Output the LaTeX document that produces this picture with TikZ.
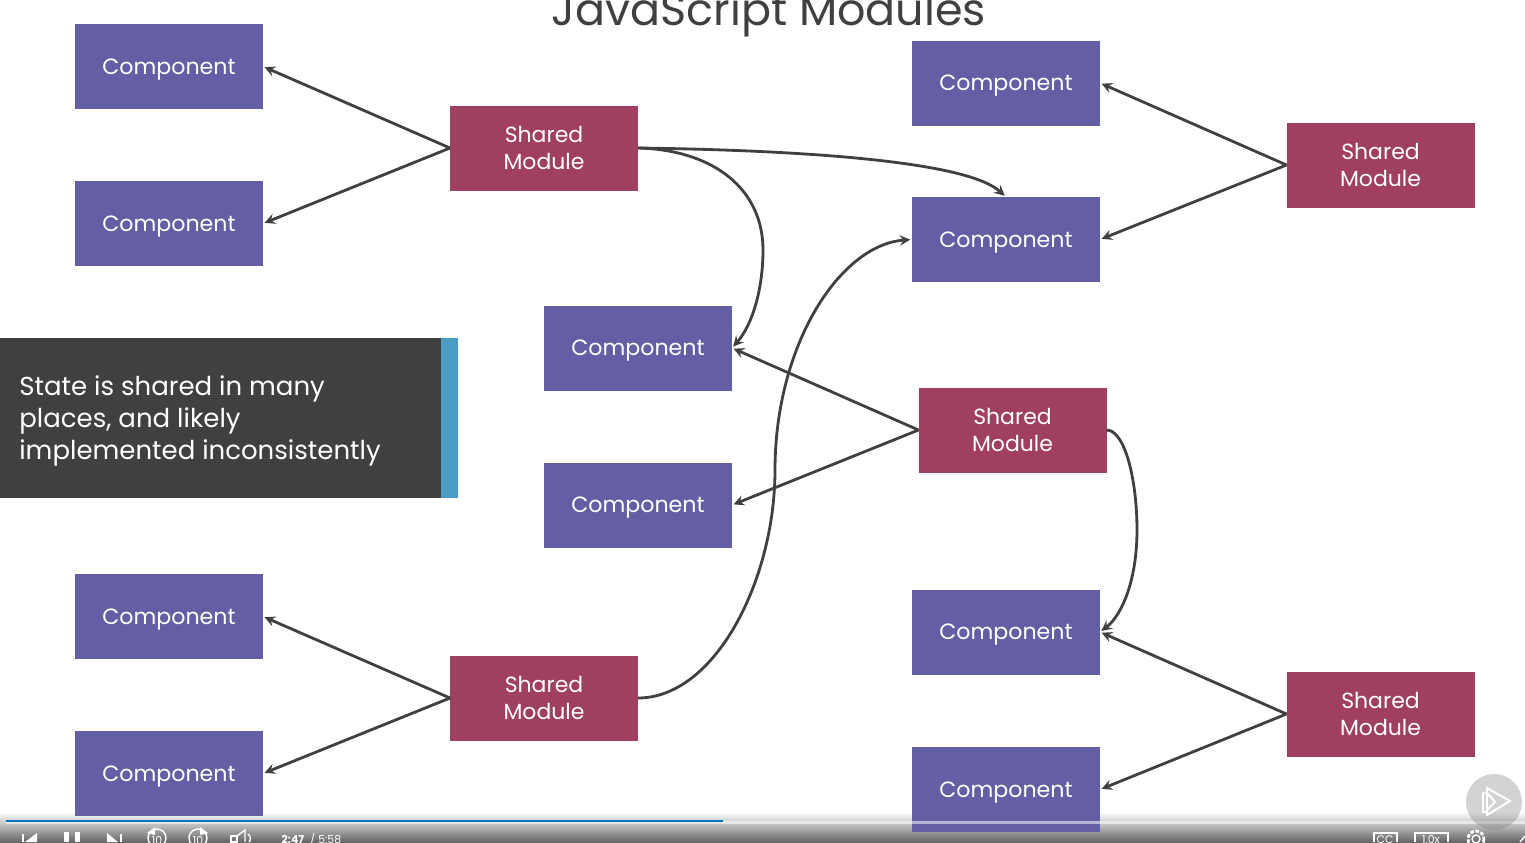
\documentclass[tikz,border=0pt]{standalone}
\usepackage{fontspec}
\setmainfont{Poppins}
\usepackage{xcolor}
\usepackage{tikz}
\usetikzlibrary{positioning}

\definecolor{compfill}{HTML}{645FA5}
\definecolor{sharedfill}{HTML}{A03F5E}
\definecolor{linkgray}{HTML}{404040}
\definecolor{notefill}{HTML}{404040}
\definecolor{notebar}{HTML}{4A9CC5}
\definecolor{playblue}{HTML}{0A78B8}

\tikzset{
	comp/.style={fill=compfill,text=white,minimum width=188*0.02cm,minimum height=85*0.02cm,inner sep=0pt,outer sep=0pt,text height=9pt,text depth=0pt,font=\fontsize{12.6}{15}\selectfont},
	shared/.style={fill=sharedfill,text=white,minimum width=188*0.02cm,minimum height=85*0.02cm,inner sep=0pt,outer sep=0pt,align=center,font=\fontsize{12.5}{15.3}\selectfont},
	link/.style={->,linkgray,line width=1.6pt,shorten >=1pt},
	icon/.style={white,line width=0.8pt},
	tiny/.style={text=white,inner sep=0pt,font=\fontsize{6.2}{7}\selectfont}
}

\begin{document}
\begin{tikzpicture}[x=0.02cm,y=-0.02cm,>=stealth]
	\useasboundingbox (0,0) rectangle (1525,842);
	\clip (0,0) rectangle (1525,842);

	% player bar goes underneath the slide
	\shade[top color=white,bottom color=black!60] (0,812) rectangle (1525,842);

	\node[font=\fontsize{25.3}{30}\selectfont,text=linkgray] (title) at (769,14) {JavaScript Modules};

	\node[comp] (compA) at (169,66.5) {Component};
	\node[comp] (compB) at (169,223.5) {Component};
	\node[shared] (sharedL) at (544,148) {Shared\\Module};

	\node[comp] (compC) at (1006,83) {Component};
	\node[comp] (compD) at (1006,239.5) {Component};
	\node[shared] (sharedR) at (1380.5,165) {Shared\\Module};

	\node[comp] (compE) at (638,348) {Component};
	\node[comp] (compF) at (638,505) {Component};
	\node[shared] (sharedM) at (1012.5,430) {Shared\\Module};

	\node[comp] (compG) at (169,616.5) {Component};
	\node[comp] (compH) at (169,773.5) {Component};
	\node[shared] (sharedB) at (544,698) {Shared\\Module};

	\node[comp] (compI) at (1006,632) {Component};
	\node[comp] (compJ) at (1006,789.5) {Component};
	\node[shared] (sharedS) at (1380.5,714) {Shared\\Module};

	\foreach \s/\a/\b in {sharedL/compA/compB,sharedR/compC/compD,sharedM/compE/compF,sharedB/compG/compH,sharedS/compI/compJ}{
		\draw[link] (\s.west) -- (\a.east);
		\draw[link] (\s.west) -- (\b.east);
	}

	\coordinate (bendE) at (763,250);
	\coordinate (bendB) at (775,470);
	\coordinate (bendM) at (1137,530);

	\draw[link] (sharedL.east) .. controls (715,150) and (763,190) .. (bendE) .. controls (763,290) and (752,325) .. (compE.east);
	\draw[link] (sharedL.east) .. controls (790,150) and (965,160) .. (compD.north);
	\draw[link] (sharedB.east) .. controls (715,698) and (775,580) .. (bendB) .. controls (775,345) and (840,245) .. (compD.west);
	\draw[link] (sharedM.east) .. controls (1125,430) and (1137,480) .. (bendM) .. controls (1137,580) and (1122,615) .. (compI.east);

	% note on the left
	\node[fill=notefill,minimum width=441*0.02cm,minimum height=160*0.02cm,inner sep=0pt,outer sep=0pt] (note) at (220.5,418) {};
	\node[fill=notebar,minimum width=17*0.02cm,minimum height=160*0.02cm,inner sep=0pt,outer sep=0pt,right=0pt of note] (noteBar) {};
	\node[right,text=white,align=left,inner sep=0pt,font=\fontsize{14.8}{18}\selectfont] (noteText) at (19,421) {State is shared in many\\places, and likely\\implemented inconsistently};

	% player controls
	\fill[white,opacity=0.55] (6,821) rectangle (1525,824);
	\fill[playblue] (6,819.5) rectangle (723,822);

	\fill[white] (22,834) rectangle (24,842);
	\fill[white] (37,833) -- (37,842) -- (25,842) -- cycle;
	\fill[white] (64,832) rectangle (69,842);
	\fill[white] (75,832) rectangle (80,842);
	\fill[white] (107,833) -- (107,842) -- (118,842) -- cycle;
	\fill[white] (120,834) rectangle (122,842);
	\draw[icon] (157,838) circle (9);
	\fill[white] (147,833) -- (155,827) -- (155,835) -- cycle;
	\node[tiny] (backTen) at (157,840) {10};
	\draw[icon] (198,838) circle (9);
	\fill[white] (208,833) -- (200,827) -- (200,835) -- cycle;
	\node[tiny] (fwdTen) at (198,840) {10};
	\draw[icon] (231,836) rectangle (237,842);
	\draw[icon] (237,836) -- (245,830) -- (245,842);
	\draw[icon] (248,834) .. controls (251,836) and (251,840) .. (249,842);
	\node[tiny,font=\bfseries\fontsize{6.2}{7}\selectfont] (timeNow) at (293,839) {2:47};
	\node[tiny,right=3pt of timeNow] (timeAll) {/ 5:58};
	\draw[icon] (1374,842) |- (1397,833) -- (1397,842);
	\node[tiny] (ccLabel) at (1385,840) {CC};
	\draw[icon] (1415,842) |- (1448,833) -- (1448,842);
	\node[tiny] (speedLabel) at (1431,840) {1.0x};
	\draw[icon,line width=1.6pt,dash pattern=on 2pt off 1pt] (1476,839) circle (8);
	\draw[icon] (1476,839) circle (4);
	\draw[icon] (1520,842) -- (1525,836);

	% play badge
	\fill[black!50,opacity=0.35] (1494,802) circle (28);
	\draw[white,line width=1.1pt] (1487,788) -- (1510,801) -- (1487,815) -- cycle;
	\draw[white,line width=1.1pt] (1487,793) -- (1483,793) -- (1483,812) -- (1487,812);
	\draw[white,line width=1.1pt] (1487,793) -- (1495,802) -- (1487,810);
\end{tikzpicture}
\end{document}
